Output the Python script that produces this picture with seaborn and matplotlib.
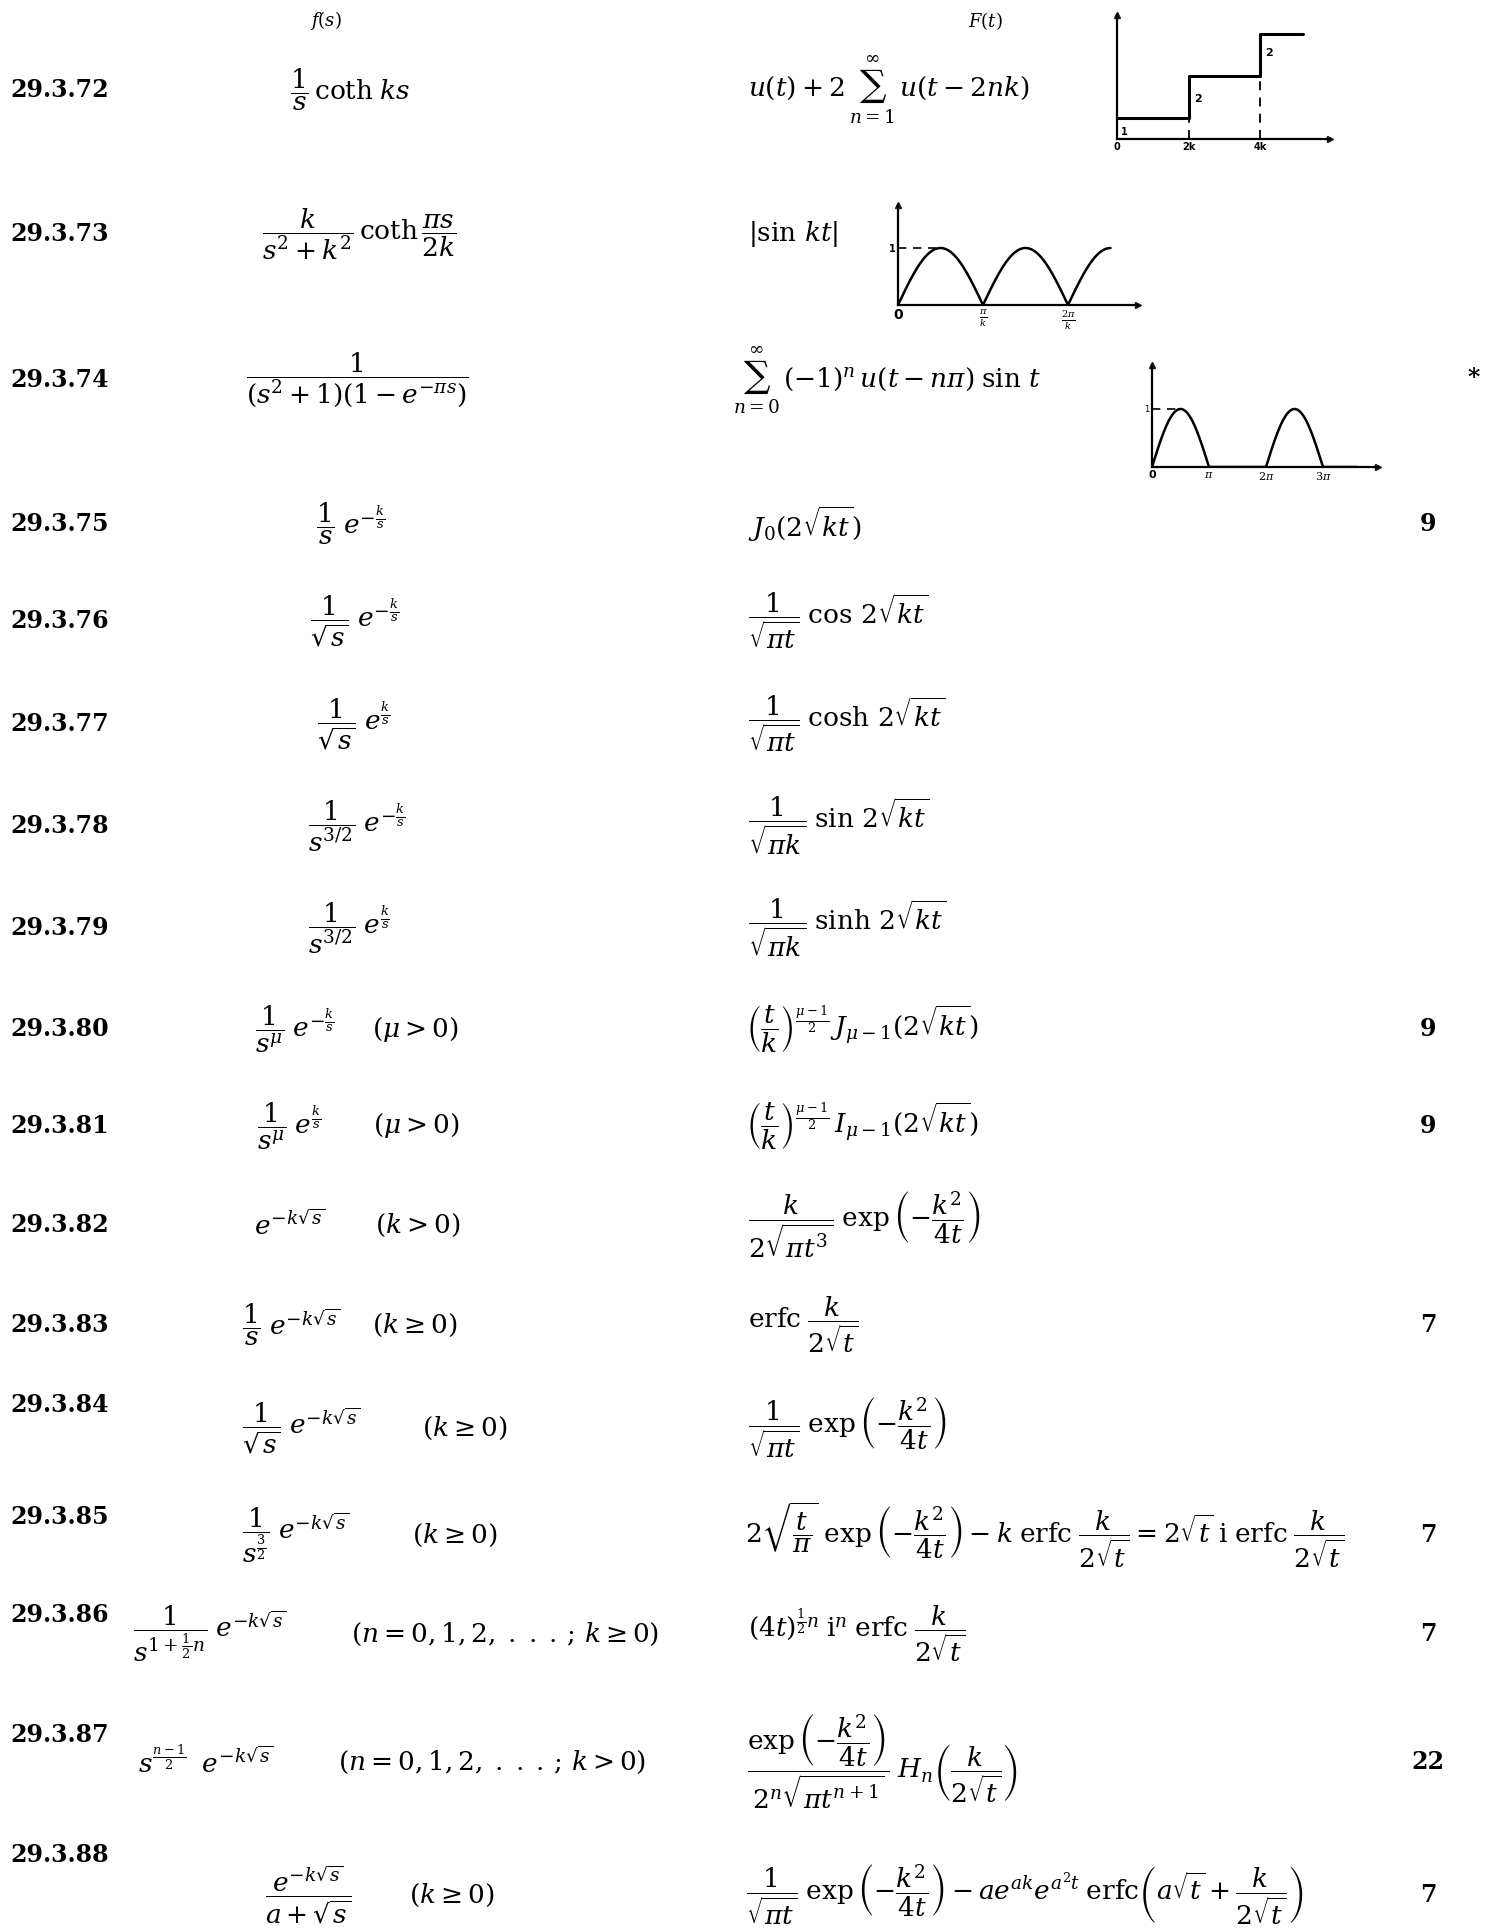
import numpy as np
import matplotlib
matplotlib.use('Agg')
import matplotlib.pyplot as plt
import seaborn as sns

W, H = 1494, 1930

# ---- table content ----
row_ids = ['29.3.72', '29.3.73', '29.3.74', '29.3.75', '29.3.76', '29.3.77',
           '29.3.78', '29.3.79', '29.3.80', '29.3.81', '29.3.82', '29.3.83',
           '29.3.84', '29.3.85', '29.3.86', '29.3.87', '29.3.88']

fs_exprs = [
    r'$\dfrac{1}{s}\,\mathrm{coth}\;ks$',
    r'$\dfrac{k}{s^2+k^2}\,\mathrm{coth}\,\dfrac{\pi s}{2k}$',
    r'$\dfrac{1}{(s^2+1)(1-e^{-\pi s})}$',
    r'$\dfrac{1}{s}\;e^{-\frac{k}{s}}$',
    r'$\dfrac{1}{\sqrt{s}}\;e^{-\frac{k}{s}}$',
    r'$\dfrac{1}{\sqrt{s}}\;e^{\frac{k}{s}}$',
    r'$\dfrac{1}{s^{3/2}}\;e^{-\frac{k}{s}}$',
    r'$\dfrac{1}{s^{3/2}}\;e^{\frac{k}{s}}$',
    r'$\dfrac{1}{s^{\mu}}\;e^{-\frac{k}{s}}$',
    r'$\dfrac{1}{s^{\mu}}\;e^{\frac{k}{s}}$',
    r'$e^{-k\sqrt{s}}$',
    r'$\dfrac{1}{s}\;e^{-k\sqrt{s}}$',
    r'$\dfrac{1}{\sqrt{s}}\;e^{-k\sqrt{s}}$',
    r'$\dfrac{1}{s^{\frac{3}{2}}}\;e^{-k\sqrt{s}}$',
    r'$\dfrac{1}{s^{1+\frac{1}{2}n}}\;e^{-k\sqrt{s}}$',
    r'$s^{\frac{n-1}{2}}\;\;e^{-k\sqrt{s}}$',
    r'$\dfrac{e^{-k\sqrt{s}}}{a+\sqrt{s}}$',
]

fs_conds = [None, None, None, None, None, None, None, None,
            r'$(\mu>0)$', r'$(\mu>0)$', r'$(k>0)$', r'$(k\geq 0)$',
            r'$(k\geq 0)$', r'$(k\geq 0)$',
            r'$(n=0,1,2,\;.\;.\;.\,;\,k\geq 0)$',
            r'$(n=0,1,2,\;.\;.\;.\,;\,k>0)$',
            r'$(k\geq 0)$']

ft_exprs = [
    r'$u(t)+2\,\sum_{n=1}^{\infty}\,u(t-2nk)$',
    r'$|\sin\,kt|$',
    r'$\sum_{n=0}^{\infty}\,(-1)^n\,u(t-n\pi)\;\sin\,t$',
    r'$J_0(2\sqrt{kt})$',
    r'$\dfrac{1}{\sqrt{\pi t}}\;\cos\,2\sqrt{kt}$',
    r'$\dfrac{1}{\sqrt{\pi t}}\;\cosh\,2\sqrt{kt}$',
    r'$\dfrac{1}{\sqrt{\pi k}}\;\sin\,2\sqrt{kt}$',
    r'$\dfrac{1}{\sqrt{\pi k}}\;\sinh\,2\sqrt{kt}$',
    r'$\left(\dfrac{t}{k}\right)^{\frac{\mu-1}{2}}\,J_{\mu-1}(2\sqrt{kt})$',
    r'$\left(\dfrac{t}{k}\right)^{\frac{\mu-1}{2}}\,I_{\mu-1}(2\sqrt{kt})$',
    r'$\dfrac{k}{2\sqrt{\pi t^3}}\;\exp\left(-\dfrac{k^2}{4t}\right)$',
    r'$\mathrm{erfc}\;\dfrac{k}{2\sqrt{t}}$',
    r'$\dfrac{1}{\sqrt{\pi t}}\;\exp\left(-\dfrac{k^2}{4t}\right)$',
    r'$2\sqrt{\dfrac{t}{\pi}}\;\exp\left(-\dfrac{k^2}{4t}\right)-k\;\mathrm{erfc}\;\dfrac{k}{2\sqrt{t}}=2\sqrt{t}\;\mathrm{i\;erfc}\;\dfrac{k}{2\sqrt{t}}$',
    r'$(4t)^{\frac{1}{2}n}\;\mathrm{i}^n\;\mathrm{erfc}\;\dfrac{k}{2\sqrt{t}}$',
    r'$\dfrac{\exp\left(-\dfrac{k^2}{4t}\right)}{2^n\sqrt{\pi t^{n+1}}}\;H_n\left(\dfrac{k}{2\sqrt{t}}\right)$',
    r'$\dfrac{1}{\sqrt{\pi t}}\;\exp\left(-\dfrac{k^2}{4t}\right)-ae^{ak}e^{a^2t}\;\mathrm{erfc}\left(a\sqrt{t}+\dfrac{k}{2\sqrt{t}}\right)$',
]

refs = ['', '', '*', '9', '', '', '', '', '9', '9', '', '7', '', '7', '7', '22', '7']

# ---- sketch data ----
step_t = [0, 2, 4, 5.2]          # in units of k
step_f = [1, 3, 5, 5]
step_ticks = [0, 2, 4]
step_ticklabels = ['0', '2k', '4k']
step_notes = ['1', '2', '2']

abs_ticks = [0, np.pi, 2 * np.pi]
abs_ticklabels = ['0', r'$\frac{\pi}{k}$', r'$\frac{2\pi}{k}$']
abs_end = 2.5 * np.pi

half_ticks = [0, np.pi, 2 * np.pi, 3 * np.pi]
half_ticklabels = ['0', r'$\pi$', r'$2\pi$', r'$3\pi$']
half_end = 3.6 * np.pi

# ---- layout (pixels) ----
label_y = [90, 234, 380, 524, 621, 724, 826, 928, 1029, 1126, 1225, 1325,
           1405, 1517, 1615, 1735, 1855]
formula_y = [90, 234, 380, 524, 621, 724, 826, 928, 1029, 1126, 1225, 1325,
             1428, 1535, 1634, 1762, 1895]
fs_x = [290, 262, 246, 316, 310, 317, 308, 308, 255, 257, 254, 242, 242, 242,
        133, 138, 265]
cond_x = [None] * 8 + [372, 373, 375, 372, 422, 412, 351, 338, 409]
ft_x = [748, 748, 733, 748, 748, 748, 748, 748, 746, 746, 748, 748, 748, 745,
        748, 747, 746]

sns.set_theme(style='white')
plt.rcParams['font.family'] = ['DejaVu Serif']
plt.rcParams['mathtext.fontset'] = 'dejavuserif'
plt.rcParams['text.color'] = 'black'
plt.rcParams['xtick.color'] = 'black'
plt.rcParams['ytick.color'] = 'black'

fig = plt.figure(figsize=(W / 100, H / 100), dpi=100)
page = fig.add_axes([0, 0, 1, 1])
page.set_xlim(0, W)
page.set_ylim(H, 0)
page.axis('off')

FS = 19
page.text(326, 21, r'$f(s)$', fontsize=13, ha='center', va='center')
page.text(985, 21, r'$F(t)$', fontsize=13, ha='center', va='center')

for i, rid in enumerate(row_ids):
    page.text(10, label_y[i], rid, fontsize=17, fontweight='bold',
              ha='left', va='center')
    page.text(fs_x[i], formula_y[i], fs_exprs[i], fontsize=FS,
              ha='left', va='center')
    if fs_conds[i]:
        page.text(cond_x[i], formula_y[i], fs_conds[i], fontsize=FS,
                  ha='left', va='center')
    page.text(ft_x[i], formula_y[i], ft_exprs[i], fontsize=FS,
              ha='left', va='center')
    if refs[i] == '*':
        page.text(1474, formula_y[i] - 2, refs[i], fontsize=17,
                  fontweight='bold', ha='center', va='center')
    elif refs[i]:
        page.text(1428, formula_y[i], refs[i], fontsize=17,
                  fontweight='bold', ha='center', va='center')


def px_axes(x0, y0, x1, y1):
    ax = fig.add_axes([x0 / W, 1 - y1 / H, (x1 - x0) / W, (y1 - y0) / H])
    ax.set_facecolor('none')
    sns.despine(ax=ax)
    for s in ['left', 'bottom']:
        ax.spines[s].set_linewidth(1.6)
        ax.spines[s].set_color('black')
    ax.plot(1, 0, '>k', ms=4, transform=ax.get_yaxis_transform(), clip_on=False)
    ax.plot(0, 1, '^k', ms=4, transform=ax.get_xaxis_transform(), clip_on=False)
    ax.tick_params(length=0, pad=2, labelsize=7)
    return ax


tick_font = dict(family='DejaVu Sans', weight='bold', size=7)

# 29.3.72 staircase
ax1 = px_axes(1117, 15, 1330, 139)
ax1.set_xlim(0, 5.95)
ax1.set_ylim(0, 5.9)
sns.lineplot(x=step_t, y=step_f, ax=ax1, color='black', lw=2.2,
             drawstyle='steps-post', estimator=None)
ax1.vlines(step_t[1:3], 0, step_f[0:2], colors='black', linestyles=(0, (5, 4)),
           lw=1.3)
ax1.set_xticks(step_ticks, step_ticklabels, fontdict=tick_font)
ax1.set_yticks([])
ax1.text(0.12, step_f[0] * 0.33, step_notes[0], fontdict=tick_font, va='center')
ax1.text(step_t[1] + 0.15, (step_f[0] + step_f[1]) / 2 - 0.1, step_notes[1],
         fontdict=dict(tick_font, size=8), va='center')
ax1.text(step_t[2] + 0.15, (step_f[1] + step_f[2]) / 2 + 0.1, step_notes[2],
         fontdict=dict(tick_font, size=8), va='center')
ax1.set_xlabel('')
ax1.set_ylabel('')

# 29.3.73 |sin kt|
ax2 = px_axes(898, 205, 1138, 305)
ax2.set_xlim(0, 240 / 85 * np.pi)
ax2.set_ylim(0, 100 / 57)
t2 = np.linspace(0, abs_end, 400)
sns.lineplot(x=t2, y=np.abs(np.sin(t2)), ax=ax2, color='black', lw=1.8,
             estimator=None)
ax2.plot([0, np.pi / 2], [1, 1], color='black', ls=(0, (5, 4)), lw=1.2)
ax2.set_xticks(abs_ticks, abs_ticklabels, fontdict=dict(tick_font, size=10))
ax2.set_yticks([1], ['1'], fontdict=tick_font)

# 29.3.74 half-wave sine
ax3 = px_axes(1152, 365, 1378, 467)
ax3.set_xlim(0, 226 / 57 * np.pi)
ax3.set_ylim(0, 102 / 58)
t3 = np.linspace(0, half_end, 600)
sns.lineplot(x=t3, y=np.clip(np.sin(t3), 0, None), ax=ax3, color='black',
             lw=1.8, estimator=None)
ax3.plot([0, np.pi / 2], [1, 1], color='black', ls=(0, (5, 4)), lw=1.2)
ax3.set_xticks(half_ticks, half_ticklabels, fontdict=dict(tick_font, size=8))
ax3.set_yticks([1], ['1'], fontdict=dict(tick_font, weight='normal', size=6))

fig.savefig('out.png', dpi=100)
